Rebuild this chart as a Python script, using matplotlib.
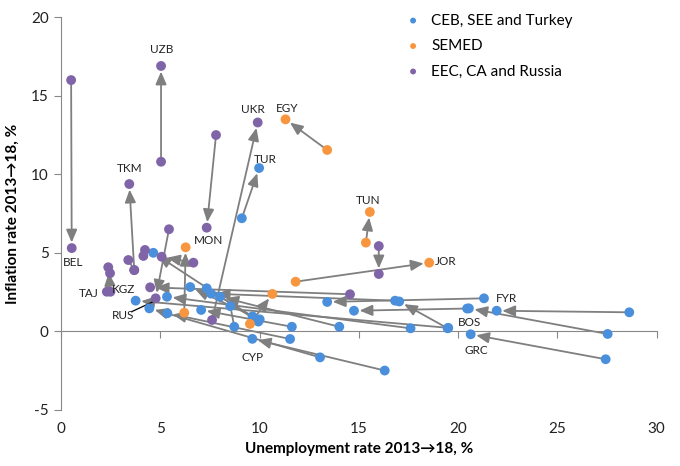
#!/usr/bin/env python3
import matplotlib
matplotlib.use("Agg")
import matplotlib.pyplot as plt
import numpy as np

# --- data: (unemployment, inflation) in 2013 and 2018 ---
ceb_names = ["TUR", "CYP", "GRC", "BOS", "FYR", "SRB", "MNE", "HRV", "SVK", "ALB",
             "BGR", "LVA", "LTU", "POL", "SVN", "HUN", "EST", "ROU", "KOS"]
ceb_u13 = [9.1, 16.3, 27.43, 27.53, 28.62, 21.3, 19.47, 19.5, 17.6, 20.45,
           13.04, 11.53, 11.62, 14.01, 9.93, 10.0, 9.64, 16.82, 8.72]
ceb_i13 = [7.2, -2.5, -1.78, -0.17, 1.21, 2.1, 0.19, 0.22, 0.19, 1.45,
           -1.66, -0.49, 0.29, 0.29, 0.62, 0.76, 0.95, 1.95, 0.29]
ceb_u18 = [9.97, 9.63, 20.63, 20.54, 21.94, 13.4, 17.03, 3.75, 5.33, 14.75,
           4.44, 5.35, 7.05, 8.0, 4.64, 6.5, 7.33, 7.55, 8.52]
ceb_i18 = [10.4, -0.48, -0.19, 1.46, 1.31, 1.87, 1.9, 1.95, 2.2, 1.31,
           1.46, 1.15, 1.36, 2.2, 5.0, 2.82, 2.74, 2.4, 1.6]

semed_names = ["EGY", "TUN", "JOR", "LBN", "MAR"]
semed_u13 = [13.4, 15.35, 11.81, 6.2, 9.51]
semed_i13 = [11.55, 5.65, 3.16, 1.18, 0.47]
semed_u18 = [11.3, 15.55, 18.54, 6.27, 10.64]
semed_i18 = [13.5, 7.6, 4.37, 5.35, 2.38]

eec_names = ["BEL", "UZB", "TKM", "MON", "UKR", "ARM", "GEO", "RUS", "TAJ",
             "KGZ", "AZE", "MDA", "KAZ"]
eec_u13 = [0.5, 5.03, 3.68, 7.8, 7.6, 16.0, 14.55, 5.43, 2.3, 2.48, 6.66, 4.14, 3.38]
eec_i13 = [16.0, 10.8, 3.9, 12.5, 0.72, 5.43, 2.36, 6.5, 2.52, 2.52, 4.37, 4.8, 4.54]
eec_u18 = [0.53, 5.03, 3.43, 7.33, 9.9, 16.0, 4.48, 4.76, 2.46, 2.37, 5.06, 4.22, 3.68]
eec_i18 = [5.3, 16.9, 9.38, 6.6, 13.3, 3.65, 2.8, 2.1, 3.7, 4.08, 4.75, 5.18, 3.9]

# country labels shown on the chart and where they sit
label_names = ["UZB", "TKM", "BEL", "UKR", "EGY", "TUR", "TUN", "MON", "JOR",
               "FYR", "BOS", "GRC", "KGZ", "TAJ", "RUS", "CYP"]
label_x = [5.06, 3.47, 0.61, 9.65, 11.39, 10.27, 15.47, 7.4, 19.37,
           22.41, 20.56, 20.9, 3.16, 1.37, 3.13, 9.66]
label_y = [17.96, 10.34, 4.37, 14.1, 14.18, 10.97, 8.36, 5.8, 4.43,
           2.1, 0.55, -1.25, 2.68, 2.42, 0.99, -1.7]

xticks = [0, 5, 10, 15, 20, 25, 30]
yticks = [-5, 0, 5, 10, 15, 20]


def main():
    plt.rcParams["font.family"] = ["Lato", "DejaVu Sans"]
    plt.rcParams["axes.unicode_minus"] = False
    fig = plt.figure(figsize=(6.8, 4.66), dpi=100)
    ax = fig.add_axes([0.09, 0.1206, 0.8757, 0.8423])
    ax.set_xlim(0, 30)
    ax.set_ylim(-5, 20)

    groups = [
        ("CEB, SEE and Turkey", "#4a8fdc", ceb_u13, ceb_i13, ceb_u18, ceb_i18),
        ("SEMED", "#f7963f", semed_u13, semed_i13, semed_u18, semed_i18),
        ("EEC, CA and Russia", "#8064a8", eec_u13, eec_i13, eec_u18, eec_i18),
    ]

    # arrows 2013 -> 2018 (very short moves get a plain line, no head)
    for _, _, u13, i13, u18, i18 in groups:
        for a, b, c, d in zip(u13, i13, u18, i18):
            p0 = ax.transData.transform((a, b))
            p1 = ax.transData.transform((c, d))
            if np.hypot(*(p1 - p0)) > 22:
                style = "-|>,head_length=0.7,head_width=0.3"
            else:
                style = "-"
            ax.annotate("", xy=(c, d), xytext=(a, b),
                        arrowprops=dict(arrowstyle=style, color="#7f7f7f", lw=1.3,
                                        mutation_scale=11, shrinkA=0, shrinkB=4),
                        zorder=2)

    for name, col, u13, i13, u18, i18 in groups:
        ax.scatter(u13 + u18, i13 + i18, s=50, color=col, zorder=3,
                   edgecolors="none", label=name)

    for n, x, y in zip(label_names, label_x, label_y):
        ax.text(x, y, n, fontsize=8.5, ha="center", va="center", color="#222222")
    # leader line for RUS
    ax.plot([3.55, 4.64], [1.25, 1.89], color="black", lw=0.9, zorder=2)

    ax.spines["top"].set_visible(False)
    ax.spines["right"].set_visible(False)
    ax.spines["bottom"].set_position(("data", 0))
    ax.spines["left"].set_color("#888888")
    ax.spines["bottom"].set_color("#888888")
    ax.set_yticks(yticks)
    ax.set_xticks(xticks)
    ax.tick_params(axis="both", direction="out", length=5, color="#888888")
    ax.tick_params(axis="x", labelbottom=False)
    ax.tick_params(axis="y", labelsize=11, pad=4, labelcolor="#222222")

    sec = ax.secondary_xaxis(0)
    sec.spines["bottom"].set_visible(False)
    sec.set_xticks(xticks)
    sec.tick_params(length=0, pad=9, labelsize=11, labelcolor="#222222")
    sec.set_xlabel("Unemployment rate 2013\u219218, %", fontsize=11,
                   fontweight="bold", labelpad=4)
    ax.set_ylabel("Inflation rate 2013\u219218, %", fontsize=11,
                  fontweight="bold", labelpad=8)

    ax.legend(loc="upper left", bbox_to_anchor=(0.555, 1.025), frameon=False,
              fontsize=11, markerscale=0.6, handletextpad=0.2,
              labelspacing=0.75, borderaxespad=0)

    fig.savefig("out.png", dpi=100)
    plt.close(fig)


if __name__ == "__main__":
    main()
